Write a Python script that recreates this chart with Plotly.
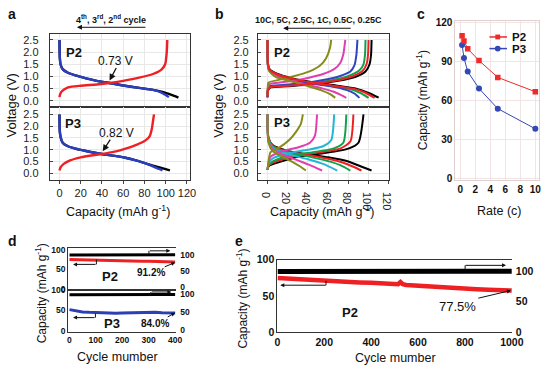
import plotly.graph_objects as go

W, H = 554, 372
FONT = "Liberation Sans, Arial, sans-serif"

# ---------------- Panel a : 2nd-4th cycle voltage profiles ----------------
a_p2_chg_q = [0, 0.5, 2, 8, 20, 35, 47, 60, 75, 88, 96, 99.5, 101, 101.5]
a_p2_chg_v = [0.15, 0.25, 0.38, 0.55, 0.62, 0.67, 0.73, 0.82, 0.95, 1.1, 1.28, 1.5, 2.0, 2.5]
a_p2_dis_blue_q = [0, 0.3, 1, 3, 8, 15, 25, 35, 47, 60, 75, 88, 95, 100, 103]
a_p2_dis_blue_v = [2.5, 1.8, 1.5, 1.3, 1.15, 1.04, 0.92, 0.82, 0.73, 0.63, 0.53, 0.45, 0.36, 0.24, 0.15]
a_p2_dis_black_q = [0, 0.3, 1, 3, 8, 15, 25, 35, 47, 60, 75, 88, 96, 103, 108, 112]
a_p2_dis_black_v = [2.5, 1.8, 1.5, 1.3, 1.15, 1.04, 0.92, 0.82, 0.73, 0.63, 0.53, 0.45, 0.38, 0.28, 0.2, 0.13]

a_p3_chg_q = [0, 1, 4, 10, 20, 30, 40, 52, 63, 73, 81, 85, 87, 88, 89]
a_p3_chg_v = [0.12, 0.25, 0.4, 0.55, 0.68, 0.76, 0.82, 0.92, 1.06, 1.22, 1.4, 1.58, 1.9, 2.2, 2.5]
a_p3_dis_blue_q = [0, 0.3, 1, 3, 8, 15, 25, 40, 52, 62, 72, 81, 88, 93, 97]
a_p3_dis_blue_v = [2.5, 1.8, 1.55, 1.3, 1.15, 1.05, 0.95, 0.82, 0.74, 0.66, 0.55, 0.42, 0.3, 0.2, 0.13]
a_p3_dis_black_q = [0, 0.3, 1, 3, 8, 15, 25, 40, 52, 62, 72, 81, 88, 95, 100, 104]
a_p3_dis_black_v = [2.5, 1.8, 1.55, 1.3, 1.15, 1.05, 0.95, 0.82, 0.74, 0.66, 0.55, 0.42, 0.33, 0.24, 0.18, 0.13]

# ---------------- Panel b : rate profiles (order 10C, 5C, 2.5C, 1C, 0.5C, 0.25C) ----------------
b_rates = ["10C", "5C", "2.5C", "1C", "0.5C", "0.25C"]
b_p2_colors = ["#868b1a", "#e03fb0", "#2f45c0", "#12a04a", "#ee2024", "#000000"]
b_p3_colors = ["#868b1a", "#e03fb0", "#22b5d6", "#12a04a", "#ee2024", "#000000"]

b_p2_chg_q = [
    [0, 0.3, 1, 10, 25, 41, 52, 58, 62, 63],
    [0, 0.5, 2, 10, 25, 41, 55, 66, 72, 75, 77],
    [0, 0.5, 2, 15, 35, 55, 72, 82, 86, 88, 89],
    [0, 0.5, 3, 20, 45, 65, 82, 91, 95, 96.5, 97],
    [0, 0.5, 3, 20, 45, 68, 85, 94, 98, 99.5, 100],
    [0, 0.5, 3, 20, 45, 70, 88, 97, 101, 102.5, 103],
]
b_p2_chg_v = [
    [0.2, 0.6, 0.75, 0.85, 1.0, 1.2, 1.45, 1.75, 2.2, 2.5],
    [0.2, 0.55, 0.68, 0.74, 0.82, 0.95, 1.1, 1.3, 1.55, 1.9, 2.5],
    [0.15, 0.5, 0.6, 0.65, 0.72, 0.85, 1.02, 1.2, 1.45, 1.9, 2.5],
    [0.15, 0.48, 0.58, 0.63, 0.72, 0.85, 1.05, 1.25, 1.5, 1.9, 2.5],
    [0.15, 0.45, 0.56, 0.62, 0.7, 0.83, 1.02, 1.22, 1.5, 1.9, 2.5],
    [0.15, 0.42, 0.55, 0.6, 0.68, 0.82, 1.0, 1.2, 1.5, 1.9, 2.5],
]
b_p2_dis_q = [
    [0, 0.5, 2, 8, 15, 28, 40, 54, 62, 67],
    [0, 0.5, 2, 10, 25, 40, 55, 65, 72, 78],
    [0, 0.5, 2, 10, 25, 45, 65, 78, 86, 91],
    [0, 0.5, 2, 10, 25, 45, 65, 82, 92, 100],
    [0, 0.5, 2, 10, 25, 45, 65, 85, 97, 106],
    [0, 0.5, 2, 10, 25, 45, 68, 88, 100, 110],
]
b_p2_dis_v = [
    [2.5, 1.4, 1.2, 0.98, 0.88, 0.75, 0.6, 0.42, 0.27, 0.12],
    [2.5, 1.4, 1.22, 1.0, 0.8, 0.65, 0.5, 0.38, 0.25, 0.12],
    [2.5, 1.45, 1.25, 1.05, 0.85, 0.7, 0.58, 0.45, 0.3, 0.12],
    [2.5, 1.45, 1.27, 1.07, 0.88, 0.72, 0.6, 0.48, 0.32, 0.12],
    [2.5, 1.5, 1.28, 1.08, 0.9, 0.74, 0.62, 0.5, 0.33, 0.12],
    [2.5, 1.5, 1.3, 1.1, 0.92, 0.76, 0.63, 0.5, 0.32, 0.13],
]

b_p3_chg_q = [
    [0, 1, 3, 10, 22, 28, 33, 35],
    [0, 1, 3, 15, 30, 42, 47, 49],
    [0, 1, 4, 20, 40, 55, 63, 66],
    [0, 1, 5, 20, 45, 65, 75, 78],
    [0, 1, 5, 25, 50, 72, 82, 85],
    [0, 1, 6, 30, 55, 80, 90, 95],
]
b_p3_chg_v = [
    [0.15, 0.5, 0.9, 1.05, 1.44, 1.75, 2.1, 2.5],
    [0.15, 0.45, 0.7, 0.95, 1.1, 1.3, 1.6, 2.5],
    [0.15, 0.4, 0.6, 0.85, 1.0, 1.15, 1.4, 2.5],
    [0.15, 0.35, 0.5, 0.75, 0.9, 1.05, 1.3, 2.5],
    [0.15, 0.32, 0.45, 0.72, 0.88, 1.05, 1.35, 2.5],
    [0.15, 0.3, 0.4, 0.7, 0.85, 1.05, 1.3, 2.5],
]
b_p3_dis_q = [
    [0, 1, 5, 15, 25, 32, 38],
    [0, 1, 5, 15, 30, 42, 54],
    [0, 1, 5, 20, 40, 55, 69],
    [0, 1, 5, 20, 40, 60, 72, 82],
    [0, 1, 5, 20, 40, 60, 75, 85, 93],
    [0, 1, 5, 20, 40, 60, 80, 92, 103],
]
b_p3_dis_v = [
    [2.5, 1.3, 0.95, 0.7, 0.48, 0.3, 0.12],
    [2.5, 1.35, 1.05, 0.8, 0.55, 0.35, 0.12],
    [2.5, 1.4, 1.1, 0.82, 0.6, 0.4, 0.12],
    [2.5, 1.45, 1.15, 0.9, 0.72, 0.52, 0.35, 0.12],
    [2.5, 1.5, 1.18, 0.92, 0.78, 0.62, 0.45, 0.28, 0.12],
    [2.5, 1.5, 1.2, 0.95, 0.8, 0.68, 0.5, 0.3, 0.12],
]

# ---------------- Panel c : rate capability ----------------
c_rate = [0.25, 0.5, 1, 2.5, 5, 10]
c_p2 = [110, 106, 100, 91, 78, 67]
c_p3 = [103, 93, 82.5, 69.5, 54, 38.5]

# ---------------- Panel d : 400 cycles ----------------
d_cycles = [1, 25, 50, 75, 100, 125, 150, 175, 200, 225, 250, 275, 300, 325, 350, 375, 400]
d_p2_cap = [75.0, 74.8, 74.4, 74.0, 73.6, 73.2, 72.8, 72.4, 72.0, 71.6, 71.2, 70.8, 70.3, 69.8, 69.3, 68.9, 68.4]
d_p3_cap = [52.0, 48.5, 46.5, 45.5, 44.5, 43.5, 42.5, 43.0, 44.0, 44.5, 45.0, 44.5, 45.0, 45.5, 44.5, 44.0, 43.7]
d_eff_cycles = [1, 50, 100, 150, 200, 250, 300, 350, 400]
d_p2_eff = [99.0, 99.3, 99.4, 99.4, 99.5, 99.4, 99.5, 99.5, 99.5]
d_p3_eff = [98.8, 99.2, 99.3, 99.4, 99.4, 99.5, 99.4, 99.5, 99.5]

# ---------------- Panel e : 1000 cycles ----------------
e_cycles = [1, 50, 100, 150, 200, 250, 300, 350, 400, 450, 500, 515, 525, 535, 550,
            600, 650, 700, 750, 800, 850, 900, 950, 1000]
e_p2_cap = [74.5, 73.5, 72.5, 71.5, 70.8, 70.0, 69.2, 68.5, 68.0, 67.2, 66.5, 66.0, 69.0, 66.0, 65.0,
            63.8, 62.8, 61.8, 60.8, 60.0, 59.2, 58.5, 57.7, 57.2]
e_eff_cycles = [1, 100, 200, 300, 400, 500, 600, 700, 800, 900, 1000]
e_p2_eff = [99.4, 99.7, 99.8, 99.8, 99.8, 99.8, 99.8, 99.8, 99.8, 99.8, 99.8]


def xdom(l, r):
    return [l / W, r / W]


def ydom(t, b):
    return [1 - b / H, 1 - t / H]


def px(x):
    return x / W


def py(y):
    return 1 - y / H


fig = go.Figure()


def line(q, v, color, xa, ya, width, spline=True):
    fig.add_trace(go.Scatter(
        x=q, y=v, mode="lines",
        line=dict(color=color, width=width, shape="spline" if spline else "linear", smoothing=0.6),
        xaxis=xa, yaxis=ya, hoverinfo="skip", showlegend=False))


# panel a
line(a_p2_dis_black_q, a_p2_dis_black_v, "#000000", "x", "y", 2.4)
line(a_p2_dis_blue_q, a_p2_dis_blue_v, "#2a3fbf", "x", "y", 2.4)
line(a_p2_chg_q, a_p2_chg_v, "#ee2024", "x", "y", 2.4)
line(a_p3_dis_black_q, a_p3_dis_black_v, "#000000", "x2", "y2", 2.4)
line(a_p3_dis_blue_q, a_p3_dis_blue_v, "#2a3fbf", "x2", "y2", 2.4)
line(a_p3_chg_q, a_p3_chg_v, "#ee2024", "x2", "y2", 2.4)

# panel b
for i in [5, 3, 2, 1, 0, 4]:
    line(b_p2_dis_q[i], b_p2_dis_v[i], b_p2_colors[i], "x3", "y3", 2)
    line(b_p2_chg_q[i], b_p2_chg_v[i], b_p2_colors[i], "x3", "y3", 2)
for i in [5, 4, 3, 2, 1, 0]:
    line(b_p3_dis_q[i], b_p3_dis_v[i], b_p3_colors[i], "x4", "y4", 2)
    line(b_p3_chg_q[i], b_p3_chg_v[i], b_p3_colors[i], "x4", "y4", 2)

# panel c
fig.add_trace(go.Scatter(x=c_rate, y=c_p3, mode="lines+markers", name="P3",
                         line=dict(color="#3347b5", width=1),
                         marker=dict(symbol="circle", size=6, color="#3347b5"),
                         xaxis="x5", yaxis="y5", showlegend=False))
fig.add_trace(go.Scatter(x=c_rate, y=c_p2, mode="lines+markers", name="P2",
                         line=dict(color="#ee2a2a", width=1),
                         marker=dict(symbol="square", size=5.5, color="#ee2a2a"),
                         xaxis="x5", yaxis="y5", showlegend=False))

# panel d
line(d_eff_cycles, d_p2_eff, "#000000", "x6", "y7", 3, spline=False)
line(d_cycles, d_p2_cap, "#ee2024", "x6", "y6", 3, spline=False)
line(d_eff_cycles, d_p3_eff, "#000000", "x8", "y9", 3, spline=False)
line(d_cycles, d_p3_cap, "#2c3fb3", "x8", "y8", 3, spline=False)

# panel e
line(e_eff_cycles, e_p2_eff, "#000000", "x10", "y11", 5, spline=False)
line(e_cycles, e_p2_cap, "#ee2024", "x10", "y10", 4.5, spline=False)

# ---------------- axes ----------------
TF = dict(family=FONT, size=11, color="#222")


def TB(s):
    return dict(family=FONT, size=s, color="#111", weight="bold")


frame = dict(showline=True, mirror=True, linecolor="#333", linewidth=1, zeroline=False)
vt = [0, 0.5, 1, 1.5, 2, 2.5]
vtt = ["0.0", "0.5", "1.0", "1.5", "2.0", "2.5"]
qt = [0, 20, 40, 60, 80, 100, 120]

lay = {}
# a
lay["xaxis"] = dict(frame, domain=xdom(48, 192), range=[-9.2, 122.7], anchor="y", tickvals=qt,
                    showticklabels=False, ticks="", showgrid=True, gridcolor="#e8e8e8")
lay["yaxis"] = dict(frame, domain=ydom(29, 104), range=[-0.24, 2.74], anchor="x", tickvals=vt,
                    ticktext=vtt, ticks="inside", ticklen=3, tickfont=TF, ticklabelstandoff=8,
                    showgrid=True, gridcolor="#e8e8e8")
lay["xaxis2"] = dict(frame, domain=xdom(48, 192), range=[-9.2, 122.7], anchor="y2", tickvals=qt,
                     ticks="outside", ticklen=3, tickfont=TF, showgrid=True, gridcolor="#e8e8e8")
lay["yaxis2"] = dict(frame, domain=ydom(104, 180), range=[-0.29, 2.83], anchor="x2", tickvals=vt,
                     ticktext=vtt, ticks="inside", ticklen=3, tickfont=TF, ticklabelstandoff=8,
                     showgrid=True, gridcolor="#e8e8e8")
# b
lay["xaxis3"] = dict(frame, domain=xdom(262, 397), range=[-9.5, 120.5], anchor="y3", tickvals=qt,
                     showticklabels=False, ticks="", showgrid=True, gridcolor="#e8e8e8")
lay["yaxis3"] = dict(frame, domain=ydom(29, 104), range=[-0.24, 2.74], anchor="x3", tickvals=vt,
                     ticktext=vtt, ticks="inside", ticklen=3, tickfont=TF, ticklabelstandoff=6,
                     showgrid=True, gridcolor="#e8e8e8")
lay["xaxis4"] = dict(frame, domain=xdom(262, 397), range=[-9.5, 120.5], anchor="y4", tickvals=qt,
                     ticks="outside", ticklen=3, tickfont=TF, showgrid=True, gridcolor="#e8e8e8")
lay["yaxis4"] = dict(frame, domain=ydom(104, 180), range=[-0.29, 2.83], anchor="x4", tickvals=vt,
                     ticktext=vtt, ticks="inside", ticklen=3, tickfont=TF, ticklabelstandoff=6,
                     showgrid=True, gridcolor="#e8e8e8")
# c
lay["xaxis5"] = dict(domain=xdom(465, 551), range=[-0.64, 10.5], anchor="y5", tickvals=[0, 2, 4, 6, 8, 10],
                     tickfont=TB(10), showgrid=True, gridcolor="#f1e4e4", zeroline=False,
                     showline=True, linecolor="#e0d0d0", mirror=True)
lay["yaxis5"] = dict(domain=ydom(16, 180), range=[-1, 121], anchor="x5", tickvals=[0, 30, 60, 90, 120],
                     tickfont=TB(10), showgrid=True, gridcolor="#f1e4e4", zeroline=False,
                     showline=True, linecolor="#e0d0d0", mirror=True)
# d
lay["xaxis6"] = dict(frame, domain=xdom(67, 178), range=[-4, 404], anchor="y6", showticklabels=False,
                     ticks="", showgrid=False)
lay["yaxis6"] = dict(frame, mirror=False, domain=ydom(250, 293), range=[-2.5, 105], anchor="x6",
                     tickvals=[0, 50, 100], tickfont=TB(8.5), showgrid=False, ticks="")
lay["yaxis7"] = dict(domain=ydom(250, 293), range=[-9, 121], anchor="x6", overlaying="y6", side="right",
                     tickvals=[0, 50, 100], tickfont=TB(8.5), showgrid=False, zeroline=False, ticks="",
                     ticklabelstandoff=3)
lay["xaxis8"] = dict(frame, domain=xdom(67, 178), range=[-4, 404], anchor="y8",
                     tickvals=[0, 100, 200, 300, 400], tickfont=TB(8.5), ticks="", showgrid=False)
lay["yaxis8"] = dict(frame, mirror=False, domain=ydom(293, 337), range=[-2.3, 100.5], anchor="x8",
                     tickvals=[0, 50, 100], tickfont=TB(8.5), showgrid=False, ticks="")
lay["yaxis9"] = dict(domain=ydom(293, 337), range=[-5.4, 113.5], anchor="x8", overlaying="y8", side="right",
                     tickvals=[0, 50, 100], tickfont=TB(8.5), showgrid=False, zeroline=False, ticks="",
                     ticklabelstandoff=3)
# e
lay["xaxis10"] = dict(frame, domain=xdom(282, 523), range=[0, 1000], anchor="y10",
                      tickvals=[0, 200, 400, 600, 800, 1000], tickfont=TB(10.5), ticks="", showgrid=False)
lay["yaxis10"] = dict(frame, mirror=False, domain=ydom(262, 337), range=[0, 100], anchor="x10",
                      tickvals=[0, 50, 100], tickfont=TB(10.5), ticks="", showgrid=False)
lay["yaxis11"] = dict(domain=ydom(262, 337), range=[0, 119], anchor="x10", overlaying="y10", side="right",
                      tickvals=[0, 50, 100], tickfont=TB(10.5), showgrid=False, zeroline=False, ticks="",
                      ticklabelstandoff=3)

# ---------------- annotations ----------------
ann = []
shapes = []


def text(x, y, s, size=12, bold=False, xanchor="center", angle=0, color="#111"):
    ann.append(dict(x=px(x), y=py(y), xref="paper", yref="paper", text=s, showarrow=False,
                    font=dict(family=FONT, size=size, color=color, weight=700 if bold else 400),
                    xanchor=xanchor, yanchor="middle", textangle=angle))


def arrow(x0, y0, x1, y1, head=2, size=1, width=1):
    # tail at (x0, y0), head at (x1, y1); screen pixels
    ann.append(dict(x=px(x1), y=py(y1), ax=x0 - x1, ay=y0 - y1, xref="paper", yref="paper",
                    axref="pixel", ayref="pixel", text="", showarrow=True, arrowhead=head,
                    arrowsize=size, arrowwidth=width, arrowcolor="#111", standoff=0, startstandoff=0))


def seg(x0, y0, x1, y1, color="#111", width=1):
    shapes.append(dict(type="line", xref="paper", yref="paper", x0=px(x0), y0=py(y0),
                       x1=px(x1), y1=py(y1), line=dict(color=color, width=width)))


# panel letters
text(3, 8, "a", 14, True, "left")
text(216, 8, "b", 14, True, "left")
text(423, 8, "c", 14, True, "left")
text(3, 243, "d", 14, True, "left")
text(236, 243, "e", 14, True, "left")

# headers with arrows
text(111, 13, "4<sup>th</sup>, 3<sup>rd</sup>, 2<sup>nd</sup> cycle", 9, True)
arrow(146, 22, 76, 22, head=2, size=1, width=1)
text(324, 14, "10C, 5C, 2.5C, 1C, 0.5C, 0.25C", 9, True)
arrow(357, 23, 288, 23, head=2, size=1, width=1)

# labels in a and b
text(73, 48, "P2", 13, True)
text(72, 121, "P3", 13, True)
text(287, 48, "P2", 13, True)
text(287, 120, "P3", 13, True)
text(116, 57, "0.73 V", 12)
arrow(117, 63, 109.5, 77, head=2, size=1, width=1.3)
text(117, 131, "0.82 V", 12)
arrow(111, 137, 102.5, 150, head=2, size=1, width=1.3)

# axis titles
text(9, 103, "Voltage (V)", 13, angle=-90)
text(222, 103, "Voltage (V)", 13, angle=-90)
text(118, 212, "Capacity (mAh g<sup>-1</sup>)", 12.5)
text(328, 212, "Capacity (mAh g<sup>-1</sup>)", 12.5)
text(510, 212, "Rate (c)", 12.5)
text(431, 97, "Capacity (mAh g<sup>-1</sup>)", 12, angle=-90)
text(39, 297, "Capacity (mAh g<sup>-1</sup>)", 12, angle=-90)
text(246, 302, "Capacity (mAh g<sup>-1</sup>)", 12, angle=-90)
text(118, 363, "Cycle mumber", 12.5)
text(403, 364, "Cycle mumber", 12.5)

# c legend (drawn)
seg(500, 32, 518, 32, "#ee2a2a", 1.5)
shapes.append(dict(type="rect", xref="paper", yref="paper", x0=px(506), x1=px(511), y0=py(34.5), y1=py(29.5),
                   fillcolor="#ee2a2a", line=dict(width=0)))
text(521, 32, "P2", 11.5, True, "left")
seg(500, 44, 518, 44, "#3347b5", 1.5)
shapes.append(dict(type="circle", xref="paper", yref="paper", x0=px(505.5), x1=px(511.5), y0=py(47), y1=py(41),
                   fillcolor="#3347b5", line=dict(width=0)))
text(521, 44, "P3", 11.5, True, "left")

# d annotations
text(110, 280, "P2", 13, True)
text(152, 275, "91.2%", 10, True)
arrow(165, 270, 177, 265, head=2, size=0.8, width=1)
text(112, 328, "P3", 13, True)
text(156, 328, "84.0%", 10, True)
arrow(168, 322, 177, 317, head=2, size=0.8, width=1)
seg(96, 262, 96, 267)
arrow(96, 267, 72, 267, head=2, size=0.8, width=1)
seg(150, 256, 150, 253)
arrow(150, 253, 172, 253, head=2, size=0.8, width=1)
seg(95, 318, 95, 322)
arrow(95, 322, 72, 322, head=2, size=0.8, width=1)
seg(152, 298.5, 152, 295.5)
arrow(152, 295.5, 173, 295.5, head=2, size=0.8, width=1)

# e annotations
text(357, 317, "P2", 13, True)
text(467, 310, "77.5%", 13)
arrow(488, 302, 522, 294, head=2, size=0.8, width=1)
seg(332, 284, 332, 288.5)
arrow(332, 288.5, 285, 288.5, head=2, size=0.8, width=1)
seg(475, 272, 475, 268)
arrow(475, 268, 517, 268, head=2, size=0.8, width=1)

fig.update_layout(
    width=W, height=H, autosize=False,
    margin=dict(l=0, r=0, t=0, b=0, pad=0),
    paper_bgcolor="white", plot_bgcolor="white",
    showlegend=False,
    font=dict(family=FONT, color="#111"),
    annotations=ann, shapes=shapes,
    **lay,
)

fig.write_html("out.html",
               config={"displayModeBar": False, "staticPlot": True},
               post_script="document.body.style.margin='0px';document.body.style.padding='0px';"
                           "document.body.style.overflow='hidden';")
